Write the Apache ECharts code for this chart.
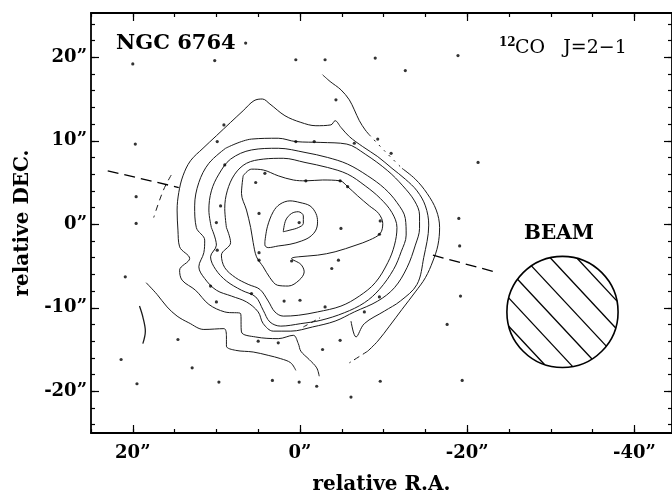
<!DOCTYPE html>
<html><head><meta charset="utf-8">
<script src="https://cdn.jsdelivr.net/npm/echarts@6/dist/echarts.min.js"></script>
<style>html,body{margin:0;padding:0;background:#fff}#c{width:672px;height:500px}</style>
</head><body><div id="c"></div>
<script>
// ---- axis ticks (arcsec) ----
const raMajorTicks = [20, 0, -20, -40];
const raMinorTicks = [25, 20, 15, 10, 5, 0, -5, -10, -15, -20, -25, -30, -35, -40];
const decMajorTicks = [20, 10, 0, -10, -20];
const decMinorTicks = [24, 22, 20, 18, 16, 14, 12, 10, 8, 6, 4, 2, 0, -2, -4, -6, -8, -10, -12, -14, -16, -18, -20, -22, -24];

// ---- contour lines [relative R.A., relative DEC.] ----
const contourOuter = [[-6.1,-11.6],[-6.7,-13.5],[-7.7,-11.9],[-10.1,-10.4],[-12.0,-9.2],[-14.0,-7.2],[-14.8,-4.0],[-15.4,-0.1],[-15.0,2.2],[-14.0,4.0],[-12.6,5.4],[-11.0,6.7],[-9.3,8.1],[-7.5,9.3],[-5.9,10.5],[-4.9,11.6],[-4.2,12.4],[-3.7,11.9],[-1.9,11.8],[-0.1,12.2],[1.8,13.0],[3.6,14.4],[4.5,15.0],[5.5,14.8],[6.8,13.6],[8.3,12.2],[10.0,10.6],[11.6,9.1],[13.1,7.6],[14.0,5.8],[14.5,3.8],[14.7,1.7],[14.6,-0.7],[14.4,-2.7],[13.2,-4.1],[14.4,-5.5],[14.1,-6.7],[12.5,-7.9],[10.9,-9.6],[9.0,-10.5],[7.1,-10.7],[7.0,-12.9],[5.3,-13.5],[2.6,-13.7],[0.8,-13.3],[0.2,-14.3],[-0.1,-15.2],[-1.1,-16.2],[-2.0,-17.2],[-2.3,-18.2]];
const contour2 = [[8.9,9.1],[5.8,10.2],[2.6,10.3],[0.5,9.9],[-2.5,9.8],[-5.6,9.6],[-7.8,8.4],[-10.5,6.4],[-12.3,4.6],[-13.7,2.8],[-14.3,1.1],[-14.3,-0.5],[-13.8,-2.5],[-12.8,-5.2],[-11.3,-7.6],[-9.3,-9.2],[-6.5,-10.5],[-4.2,-11.6],[-1.5,-12.3],[1.1,-12.8],[3.2,-12.8],[4.4,-11.9],[5.0,-10.5],[6.4,-9.3],[8.2,-8.6],[10.0,-7.9],[11.4,-6.5],[12.1,-5.1],[11.5,-3.4],[11.4,-1.9],[12.4,-0.4],[12.6,2.2],[12.1,5.0],[10.9,7.3],[8.9,9.1]];
const contour3 = [[10.6,-0.4],[10.9,1.7],[10.6,4.0],[9.7,6.0],[8.3,7.8],[5.8,8.9],[2.6,9.1],[-0.6,8.6],[-3.3,8.0],[-5.7,7.2],[-8.1,5.8],[-10.1,4.3],[-11.6,2.6],[-12.6,0.7],[-12.7,-1.3],[-12.1,-3.3],[-11.2,-5.4],[-9.5,-7.8],[-7.7,-9.4],[-5.3,-10.6],[-2.5,-11.5],[-0.1,-11.9],[2.3,-12.2],[3.6,-11.7],[4.4,-10.3],[5.3,-8.7],[7.0,-7.9],[8.8,-6.8],[10.1,-5.4],[10.7,-3.9],[10.0,-2.5],[10.6,-0.4]];
const contour4 = [[8.8,-0.4],[9.0,1.9],[8.7,4.0],[7.8,6.0],[6.4,7.3],[4.4,7.8],[2.0,7.9],[-0.6,7.4],[-3.3,6.8],[-5.7,6.0],[-7.8,4.6],[-9.6,3.1],[-11.0,1.4],[-11.6,-0.4],[-11.3,-2.5],[-10.5,-4.6],[-9.0,-7.0],[-7.1,-8.6],[-4.9,-9.8],[-2.1,-10.5],[0.2,-10.9],[2.0,-11.0],[3.0,-10.5],[3.8,-9.2],[4.8,-7.8],[6.2,-7.2],[7.7,-6.4],[9.0,-5.2],[9.4,-3.7],[8.3,-2.2],[8.8,-0.4]];
const contour5 = [[6.8,5.8],[5.8,6.6],[4.4,6.5],[2.6,5.8],[0.8,5.3],[-0.7,5.2],[-2.7,5.3],[-4.8,5.2],[-5.7,4.5],[-6.9,3.4],[-8.3,2.2],[-9.4,1.3],[-9.9,0.1],[-9.6,-1.1],[-8.3,-1.9],[-6.7,-2.5],[-4.2,-3.3],[-2.1,-3.7],[0.2,-3.9],[1.0,-4.1],[-0.1,-4.8],[-0.5,-5.7],[0.1,-6.7],[1.4,-7.4],[2.7,-7.3],[3.6,-6.4],[4.4,-5.1],[5.2,-3.9],[5.6,-2.2],[5.9,-0.4],[6.4,1.7],[7.0,3.7],[6.8,5.8]];
const contour6 = [[4.2,-2.1],[3.9,-0.3],[3.2,1.5],[2.4,2.4],[1.2,2.8],[0.0,2.6],[-1.2,2.2],[-1.9,1.3],[-2.1,0.3],[-1.9,-0.7],[-1.2,-1.5],[-0.2,-2.0],[1.2,-2.4],[2.6,-2.6],[3.8,-2.8],[4.2,-2.5],[4.2,-2.1]];
const contourPeak = [[2.0,-0.9],[1.7,0.5],[1.0,1.3],[0.2,1.5],[-0.4,1.0],[-0.4,0.1],[0.2,-0.4],[1.2,-0.7],[2.0,-0.9]];

// lowest-level fragments
const fragNorthEast = [[-2.7,17.9],[-3.6,17.1],[-4.9,16.1],[-5.9,14.9],[-6.5,13.7],[-7.1,12.4],[-7.8,11.3],[-8.3,10.7]];
const fragNorthEastDotted = [[-8.3,10.7],[-10.2,8.7],[-12.2,6.7]];
const fragEast = [[-12.2,6.7],[-13.8,5.4],[-15.2,3.7],[-16.3,1.7],[-16.7,-0.4],[-16.5,-2.5],[-15.9,-4.4],[-15.0,-6.4],[-13.8,-8.1],[-12.2,-10.2],[-10.7,-12.2],[-9.3,-14.0],[-8.1,-15.2]];
const fragEastDashed = [[-8.1,-15.2],[-5.9,-16.6]];
const fragSouthWest = [[18.4,-7.0],[17.1,-8.4],[15.9,-9.9],[14.7,-11.0],[13.3,-11.8],[11.5,-12.6],[9.1,-12.5],[8.8,-13.5],[8.8,-14.6],[7.7,-15.1],[5.6,-15.3],[3.8,-15.7],[2.3,-16.1],[1.1,-16.6],[0.5,-17.5]];
const fragWestArc = [[19.2,-9.8],[18.8,-11.1],[18.5,-12.8],[18.8,-14.3]];
const fragWestDashed = [[15.4,5.9],[16.2,4.4],[16.9,2.6],[17.5,0.8]];
const fragSouthDashed = [[-0.4,-12.3],[-2.4,-11.2]];

// dashed major axis
const majorAxisWest = [[23.0,6.4],[14.5,4.4]];
const majorAxisEast = [[-15.9,-3.7],[-23.3,-5.7]];

// observed positions
const pointings = [[20.0,19.2],[10.2,19.6],[0.5,19.7],[-3.0,19.7],[-9.0,19.9],[-12.6,18.4],[-18.9,20.2],[6.5,21.7],[9.1,11.9],[9.9,9.9],[19.7,9.6],[-4.3,14.9],[0.5,9.9],[-1.7,9.9],[-6.5,9.7],[-9.3,10.2],[-10.9,8.5],[-21.3,7.4],[9.0,7.1],[4.2,6.1],[5.3,5.0],[-0.7,5.2],[-4.8,5.2],[-5.7,4.5],[19.6,3.3],[9.5,2.2],[4.9,1.3],[0.1,0.2],[10.0,0.2],[19.6,0.1],[-9.6,0.4],[-4.9,-0.5],[-9.5,-1.2],[-19.0,0.7],[9.9,-3.1],[4.9,-3.4],[4.9,-4.3],[1.0,-4.4],[-4.6,-4.3],[-3.8,-5.3],[-19.1,-2.6],[20.9,-6.3],[10.7,-7.4],[5.8,-8.3],[10.0,-9.3],[1.9,-9.2],[0.0,-9.1],[-3.0,-9.9],[-7.7,-10.5],[-9.5,-8.7],[-19.2,-8.6],[-17.6,-12.0],[14.6,-13.8],[5.0,-14.0],[2.6,-14.2],[-4.8,-13.9],[-2.7,-15.0],[21.4,-16.2],[12.9,-17.2],[19.5,-19.1],[9.7,-18.9],[3.3,-18.7],[0.1,-18.9],[-2.0,-19.4],[-9.6,-18.8],[-19.4,-18.7],[-6.1,-20.7]];

// beam: [R.A. centre, DEC. centre, diameter]
const beam = [[-31.4, -10.5, 13.3]];

// ---------------------------------------------------------------
const black = '#000';
const serif = '"DejaVu Serif", "Liberation Serif", serif';
const RA_MIN = -44.5, RA_MAX = 25, DEC_MIN = -25, DEC_MAX = 25.3;

function xAx(position, ticks, len, opts) {
  return Object.assign({
    type: 'value', position, min: RA_MIN, max: RA_MAX, inverse: true,
    axisLine: { show: false, onZero: false },
    axisTick: { show: true, inside: true, length: len, customValues: ticks, lineStyle: { color: black, width: 1.2 } },
    axisLabel: { show: false }, splitLine: { show: false }
  }, opts || {});
}
function yAx(position, ticks, len, opts) {
  return Object.assign({
    type: 'value', position, min: DEC_MIN, max: DEC_MAX,
    axisLine: { show: false, onZero: false },
    axisTick: { show: true, inside: true, length: len, customValues: ticks, lineStyle: { color: black, width: 1.2 } },
    axisLabel: { show: false }, splitLine: { show: false }
  }, opts || {});
}
const axisLineStyle = { show: true, onZero: false, lineStyle: { color: black, width: 1.8 } };
const tickLabel = { color: black, fontFamily: serif, fontWeight: 'bold', fontSize: 18 };
const nameStyle = { color: black, fontFamily: serif, fontWeight: 'bold', fontSize: 20 };

function contour(data, type, width) {
  return {
    type: 'line', data, xAxisIndex: 0, yAxisIndex: 0, showSymbol: false, symbol: 'none',
    smooth: 0.35, silent: true, z: 3,
    lineStyle: { color: '#1a1a1a', width: width || 1, type: type || 'solid' }
  };
}

const series = [
  contour(contourOuter), contour(contour2), contour(contour3), contour(contour4),
  contour(contour5), contour(contour6), contour(contourPeak),
  contour(fragNorthEast), contour(fragNorthEastDotted, [2, 5]), contour(fragEast),
  contour(fragEastDashed, [6, 4]), contour(fragSouthWest), contour(fragWestArc, 'solid', 1.3),
  contour(fragWestDashed, [6, 5]), contour(fragSouthDashed, [5, 4]),
  { type: 'line', data: majorAxisWest, showSymbol: false, symbol: 'none', silent: true,
    lineStyle: { color: black, width: 1.3, type: [11, 6] } },
  { type: 'line', data: majorAxisEast, showSymbol: false, symbol: 'none', silent: true,
    lineStyle: { color: black, width: 1.3, type: [11, 6] } },
  { type: 'scatter', data: pointings, symbol: 'circle', symbolSize: 3.2, silent: true,
    itemStyle: { color: black }, z: 4 },
  { type: 'custom', data: beam, silent: true, z: 5,
    renderItem(params, api) {
      const c = api.coord([api.value(0), api.value(1)]);
      const r = Math.abs(api.size([api.value(2), 0])[0]) / 2;
      const children = [{ type: 'circle', shape: { cx: c[0], cy: c[1], r },
        style: { fill: 'none', stroke: black, lineWidth: 1.6 } }];
      const ang = 47 * Math.PI / 180, dx = Math.cos(ang), dy = Math.sin(ang);
      const nx = dy, ny = -dx;
      [0.85, 0.504, 0.157, -0.19, -0.536, -0.882].forEach(f => {
        const t = f * r, h = Math.sqrt(r * r - t * t);
        const px = c[0] + t * nx, py = c[1] + t * ny;
        children.push({ type: 'line', shape: { x1: px - h * dx, y1: py - h * dy, x2: px + h * dx, y2: py + h * dy },
          style: { stroke: black, lineWidth: 1.3 } });
      });
      return { type: 'group', children };
    } }
];

const option = {
  animation: false,
  backgroundColor: '#fff',
  grid: { left: 91, top: 13, width: 585, height: 425, containLabel: false },
  xAxis: [
    xAx('bottom', raMinorTicks, 4, {
      axisLine: axisLineStyle,
      axisLabel: Object.assign({ show: true, customValues: raMajorTicks, margin: 11, formatter: v => v + '”' }, tickLabel),
      name: 'relative R.A.', nameLocation: 'middle', nameGap: 42, nameTextStyle: nameStyle
    }),
    xAx('bottom', raMajorTicks, 8),
    xAx('top', raMinorTicks, 4, { axisLine: axisLineStyle }),
    xAx('top', raMajorTicks, 8)
  ],
  yAxis: [
    yAx('left', decMinorTicks, 4, {
      axisLine: axisLineStyle,
      axisLabel: Object.assign({ show: true, customValues: decMajorTicks, margin: 4, formatter: v => v + '”' }, tickLabel),
      name: 'relative DEC.', nameLocation: 'middle', nameGap: 58, nameRotate: 90, nameTextStyle: nameStyle
    }),
    yAx('left', decMajorTicks, 8),
    yAx('right', decMinorTicks, 4, { axisLine: axisLineStyle }),
    yAx('right', decMajorTicks, 8)
  ],
  graphic: [
    { type: 'text', left: 116, top: 33, silent: true,
      style: { text: 'NGC 6764', font: 'bold 21px ' + serif, fill: black } },
    { type: 'text', left: 499, top: 37, silent: true,
      style: { text: '12', font: 'bold 12px ' + serif, fill: black } },
    { type: 'text', left: 515, top: 39, silent: true,
      style: { text: 'CO   J=2−1', font: '19px ' + serif, fill: black } },
    { type: 'text', left: 524, top: 224, silent: true,
      style: { text: 'BEAM', font: 'bold 20px ' + serif, fill: black } }
  ],
  series
};
const chart = echarts.init(document.getElementById('c'));
chart.setOption(option);
</script>
</body></html>
